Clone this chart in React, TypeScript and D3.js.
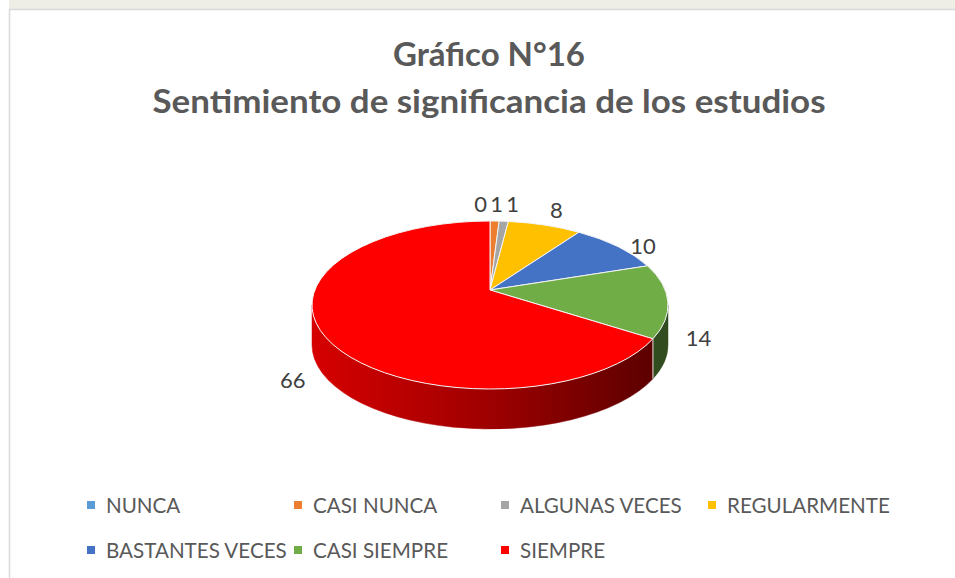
import React, { useEffect, useRef } from "react";
import * as d3 from "d3";

const categories = [
  "NUNCA",
  "CASI NUNCA",
  "ALGUNAS VECES",
  "REGULARMENTE",
  "BASTANTES VECES",
  "CASI SIEMPRE",
  "SIEMPRE",
];
const values = [0, 1, 1, 8, 10, 14, 66];
const colors = ["#5b9bd5", "#ed7d31", "#a5a5a5", "#ffc000", "#4472c4", "#70ad47", "#ff0000"];
const titleLines = ["Gráfico N°16", "Sentimiento de significancia de los estudios"];

const App = () => {
  const svgRef = useRef<SVGSVGElement>(null);
  const width = 955;
  const height = 578;

  useEffect(() => {
    const svg = d3.select(svgRef.current);
    svg.selectAll("*").remove();

    const font = "Lato, 'Noto Sans', sans-serif";

    // background, watermark strip and chart-area border
    svg.append("rect").attr("width", width).attr("height", height).attr("fill", "#ffffff");
    svg.append("rect").attr("x", 0).attr("y", 0).attr("width", width).attr("height", 9).attr("fill", "#eeede6");
    svg.append("rect").attr("x", 0).attr("y", 0).attr("width", 9).attr("height", 9).attr("fill", "#ffffff");
    svg
      .append("path")
      .attr("d", `M9.5,${height} V9.5 H${width}`)
      .attr("fill", "none")
      .attr("stroke", "#d9d9d9")
      .attr("stroke-width", 1.5);

    // title (widths matched to the original Calibri rendering)
    const titleWidths = [192, 673];
    svg
      .append("g")
      .selectAll("text")
      .data(titleLines)
      .join("text")
      .attr("x", 489)
      .attr("y", (d, i) => 53 + i * 47)
      .attr("text-anchor", "middle")
      .attr("dominant-baseline", "central")
      .attr("font-family", font)
      .attr("font-weight", "bold")
      .attr("font-size", 33)
      .attr("textLength", (d, i) => titleWidths[i])
      .attr("lengthAdjust", "spacingAndGlyphs")
      .attr("fill", "#595959")
      .text((d) => d);

    // 3D pie geometry
    const cx = 490;
    const cy = 305;
    const rx = 178;
    const ry = 84;
    const apexOff = -15; // apex sits above ellipse centre (perspective)
    const depth = 40;

    // map a true pie angle to the ellipse parameter through the perspective apex
    const toPhi = (theta: number) => {
      const dx = Math.sin(theta);
      const dy = -Math.cos(theta);
      const oy = apexOff / ry;
      const B = 2 * oy * dy;
      const C = oy * oy - 1;
      const s = (-B + Math.sqrt(B * B - 4 * C)) / 2;
      const ux = s * dx;
      const uy = oy + s * dy;
      let phi = Math.atan2(ux, -uy);
      if (phi < 0) phi += 2 * Math.PI;
      if (theta >= 2 * Math.PI - 1e-9) phi = 2 * Math.PI;
      return phi;
    };
    const pt = (phi: number, dz = 0) => [cx + rx * Math.sin(phi), cy - ry * Math.cos(phi) + dz];

    const pie = d3
      .pie<number>()
      .sort(null)
      .value((d) => d)
      .startAngle(0)
      .endAngle(2 * Math.PI);
    const arcs = pie(values).map((a, i) => ({
      ...a,
      i,
      p0: toPhi(a.startAngle),
      p1: toPhi(a.endAngle),
      pm: toPhi((a.startAngle + a.endAngle) / 2),
    }));

    const defs = svg.append("defs");
    const grad = defs
      .append("linearGradient")
      .attr("id", "sideRed")
      .attr("gradientUnits", "userSpaceOnUse")
      .attr("x1", cx - rx)
      .attr("x2", cx + rx)
      .attr("y1", 0)
      .attr("y2", 0);
    grad.append("stop").attr("offset", 0).attr("stop-color", "#d60000");
    grad.append("stop").attr("offset", 0.5).attr("stop-color", "#9e0000");
    grad.append("stop").attr("offset", 1).attr("stop-color", "#560000");

    const sideColor = (i: number) =>
      i === 6 ? "url(#sideRed)" : (d3.color(colors[i]) as d3.RGBColor).darker(2.3).formatHex();

    // side faces (front half only)
    const lo = Math.PI / 2;
    const hi = (3 * Math.PI) / 2;
    const sides = svg.append("g");
    arcs.forEach((a) => {
      const s0 = Math.max(a.p0, lo);
      const s1 = Math.min(a.p1, hi);
      if (s1 - s0 <= 1e-6) return;
      const t0 = pt(s0);
      const t1 = pt(s1);
      const b0 = pt(s0, depth);
      const b1 = pt(s1, depth);
      const d = `M${t0} A${rx},${ry} 0 0 1 ${t1} L${b1} A${rx},${ry} 0 0 0 ${b0} Z`;
      sides
        .append("path")
        .attr("d", d)
        .attr("fill", sideColor(a.i))
        .attr("stroke", sideColor(a.i))
        .attr("stroke-width", 0.5);
      if (s0 > lo + 1e-6) {
        sides
          .append("line")
          .attr("x1", t0[0])
          .attr("y1", t0[1])
          .attr("x2", b0[0])
          .attr("y2", b0[1])
          .attr("stroke", "#e8e8e8")
          .attr("stroke-width", 1);
      }
    });

    // top faces
    const apex = [cx, cy + apexOff];
    svg
      .append("g")
      .selectAll("path")
      .data(arcs.filter((a) => a.value > 0))
      .join("path")
      .attr("d", (a) => {
        const large = a.p1 - a.p0 > Math.PI ? 1 : 0;
        return `M${apex} L${pt(a.p0)} A${rx},${ry} 0 ${large} 1 ${pt(a.p1)} Z`;
      })
      .attr("fill", (a) => colors[a.i])
      .attr("stroke", "#f4f4f4")
      .attr("stroke-width", 1)
      .attr("stroke-linejoin", "round");

    // data labels
    const labels = arcs.map((a) => {
      const off = 18;
      const s = Math.sin(a.pm);
      const c = Math.cos(a.pm);
      const x = cx + (rx + off) * s;
      const y = cy - (ry + off) * c + depth * Math.max(0, Math.min(1, 1 - c));
      const anchor = s > 0.25 ? "start" : s < -0.25 ? "end" : "middle";
      return { x, y, anchor, text: String(a.value) };
    });
    // spread crowded labels at the top
    const top = labels.filter((l) => l.anchor === "middle");
    const meanBefore = d3.mean(top, (l) => l.x) ?? 0;
    for (let k = 1; k < top.length; k++) {
      if (top[k].x - top[k - 1].x < 16) top[k].x = top[k - 1].x + 16;
    }
    const shift = meanBefore - (d3.mean(top, (l) => l.x) ?? 0);
    top.forEach((l) => (l.x += shift));

    svg
      .append("g")
      .selectAll("text")
      .data(labels)
      .join("text")
      .attr("x", (l) => l.x)
      .attr("y", (l) => l.y)
      .attr("text-anchor", (l) => l.anchor)
      .attr("dominant-baseline", "central")
      .attr("font-family", font)
      .attr("font-size", 22)
      .attr("fill", "#404040")
      .text((l) => l.text);

    // legend
    const colW = 207;
    const legend = svg
      .append("g")
      .selectAll("g")
      .data(categories)
      .join("g")
      .attr("transform", (d, i) => `translate(${87 + (i % 4) * colW}, ${505 + Math.floor(i / 4) * 45})`);
    legend
      .append("rect")
      .attr("x", 0)
      .attr("y", -4)
      .attr("width", 8)
      .attr("height", 8)
      .attr("fill", (d, i) => colors[i]);
    legend
      .append("text")
      .attr("x", 19)
      .attr("y", 0)
      .attr("dominant-baseline", "central")
      .attr("font-family", font)
      .attr("font-size", 20.6)
      .attr("fill", "#595959")
      .text((d) => d);
  }, []);

  return (
    <svg
      ref={svgRef}
      width={width}
      height={height}
      style={{ position: "absolute", left: 0, top: 0 }}
    ></svg>
  );
};

export default App;
